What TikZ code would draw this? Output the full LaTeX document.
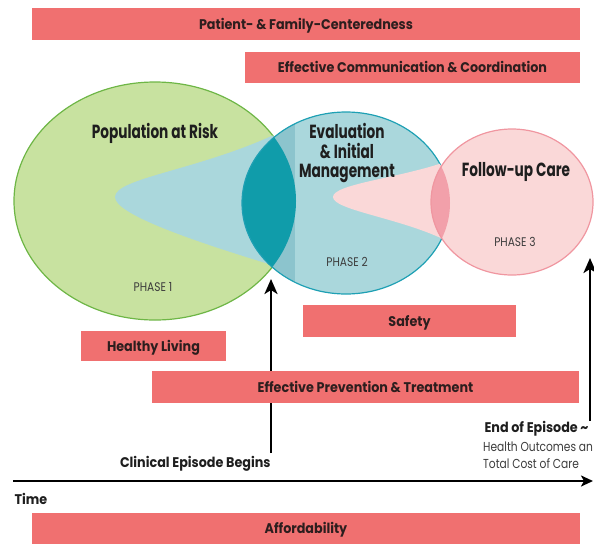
\documentclass[tikz,border=0pt]{standalone}
\usepackage{fontspec}
\setmainfont{Poppins}[FakeStretch=0.72]
\newfontfamily\barfont{Poppins}[FakeStretch=0.91]
\newfontfamily\phasefont{Poppins}[FakeStretch=0.85]
\newfontfamily\subfont{Poppins}[FakeStretch=0.82]
\usetikzlibrary{arrows.meta}
\definecolor{barred}{RGB}{240,112,112}
\definecolor{bartext}{RGB}{45,30,30}
\definecolor{greenfill}{RGB}{200,226,160}
\definecolor{greenline}{RGB}{110,182,70}
\definecolor{bluefill}{RGB}{170,215,220}
\definecolor{bluestrip}{RGB}{140,196,205}
\definecolor{blueline}{RGB}{30,160,180}
\definecolor{tealdark}{RGB}{16,156,170}
\definecolor{pinkfill}{RGB}{250,216,216}
\definecolor{pinkline}{RGB}{240,150,160}
\definecolor{pinklens}{RGB}{242,160,170}
\definecolor{inktext}{RGB}{30,30,30}
\definecolor{graytext}{RGB}{60,60,60}
\begin{document}
\begin{tikzpicture}[x=1pt,y=-1pt,
  bar/.style={fill=barred, draw=none, inner sep=0pt, text=bartext,
    text height=10pt, text depth=0pt,
    font=\barfont\fontsize{14}{16}\selectfont\bfseries},
  bigtitle/.style={text=inktext, align=center,
    font=\fontsize{19}{19.5}\selectfont\bfseries},
  phase/.style={text=graytext, font=\phasefont\fontsize{12.5}{14}\selectfont},
  ann/.style={text=inktext, font=\barfont\fontsize{14}{16}\selectfont\bfseries},
  annsub/.style={text=graytext, align=left, font=\subfont\fontsize{13}{16.5}\selectfont},
  arr/.style={line width=2.6pt, draw=black, -{Stealth[length=15pt,width=13pt,inset=4pt]}},
  axis/.style={line width=2.4pt, draw=black, -{Stealth[length=12pt,width=11pt,inset=3pt]}}
]
\useasboundingbox (0,0) rectangle (594,544);

% ---- phase 1 (green) ----
\path[fill=greenfill, draw=greenline, line width=1.2pt] (155,201) ellipse [x radius=141, y radius=119];
\begin{scope}
  \clip (155,201) ellipse [x radius=141, y radius=119];
  \fill[bluefill] (320,110) -- (278,133) .. controls (200,170) and (115,178) .. (115,197)
     .. controls (115,214) and (190,240) .. (272,265) -- (320,290) -- cycle;
\end{scope}

% ---- phase 2 (blue) ----
\fill[bluefill] (346,203) ellipse [x radius=104, y radius=91];
\begin{scope}
  \clip (346,203) ellipse [x radius=104, y radius=91];
  \fill[bluestrip] (230,100) rectangle (295,300);
  \clip (155,201) ellipse [x radius=141, y radius=119];
  \fill[tealdark] (230,100) rectangle (300,300);
\end{scope}
\draw[blueline, line width=1.2pt] (346,203) ellipse [x radius=104, y radius=91];
\begin{scope}
  \clip (346,203) ellipse [x radius=104, y radius=91];
  \fill[pinkfill] (480,140) -- (445,162) .. controls (400,178) and (333,184) .. (333,197)
     .. controls (333,210) and (400,218) .. (445,240) -- (480,260) -- cycle;
\end{scope}

% ---- phase 3 (pink) ----
\fill[pinkfill] (512,202) ellipse [x radius=81, y radius=73];
\begin{scope}
  \clip (512,202) ellipse [x radius=81, y radius=73];
  \clip (346,203) ellipse [x radius=104, y radius=91];
  \fill[pinklens] (420,120) rectangle (470,290);
\end{scope}
\draw[pinkline, line width=1.2pt] (512,202) ellipse [x radius=81, y radius=73];

% ---- circle labels ----
\node[bigtitle] (par) at (155,133) {Population at Risk};
\node[bigtitle] (eim) at (347,153) {Evaluation\\\& Initial\\Management};
\node[bigtitle] (fuc) at (516,172) {Follow-up Care};
\node[phase] (p1) at (153,287) {PHASE 1};
\node[phase] (p2) at (347,262) {PHASE 2};
\node[phase] (p3) at (515,242) {PHASE 3};

% ---- arrows ----
\coordinate (cbot) at (271,453);
\coordinate (ctop) at (271,279);
\coordinate (ebot) at (590,421);
\coordinate (etop) at (590,258);
\coordinate (tstart) at (13,481);
\coordinate (tend) at (593,481);
\draw[arr] (cbot) -- (ctop);
\draw[arr] (ebot) -- (etop);
\draw[axis] (tstart) -- (tend);

% ---- bars ----
\node[bar, minimum width=548pt, minimum height=32pt] (pfc) at (306,24) {Patient- \& Family-Centeredness};
\node[bar, minimum width=335pt, minimum height=31pt] (ecc) at (412.5,67.5) {Effective Communication \& Coordination};
\node[bar, minimum width=213pt, minimum height=32pt] (saf) at (409.5,321) {Safety};
\node[bar, minimum width=145pt, minimum height=30pt] (hl) at (153.5,346) {Healthy Living};
\node[bar, minimum width=427pt, minimum height=32pt] (ept) at (365.5,387) {Effective Prevention \& Treatment};
\node[bar, minimum width=548pt, minimum height=31pt] (aff) at (306,528.5) {Affordability};

% ---- annotations ----
\node[ann, anchor=east] (ceb) at (274,464) {Clinical Episode Begins};
\node[ann, anchor=west] (time) at (11,499) {Time};
\node[ann, anchor=west] (eoe) at (481,429) {End of Episode \textasciitilde};
\node[annsub, anchor=north west, inner sep=0pt] (hoc) at (483,442) {Health Outcomes an\\Total Cost of Care};
\end{tikzpicture}
\end{document}
